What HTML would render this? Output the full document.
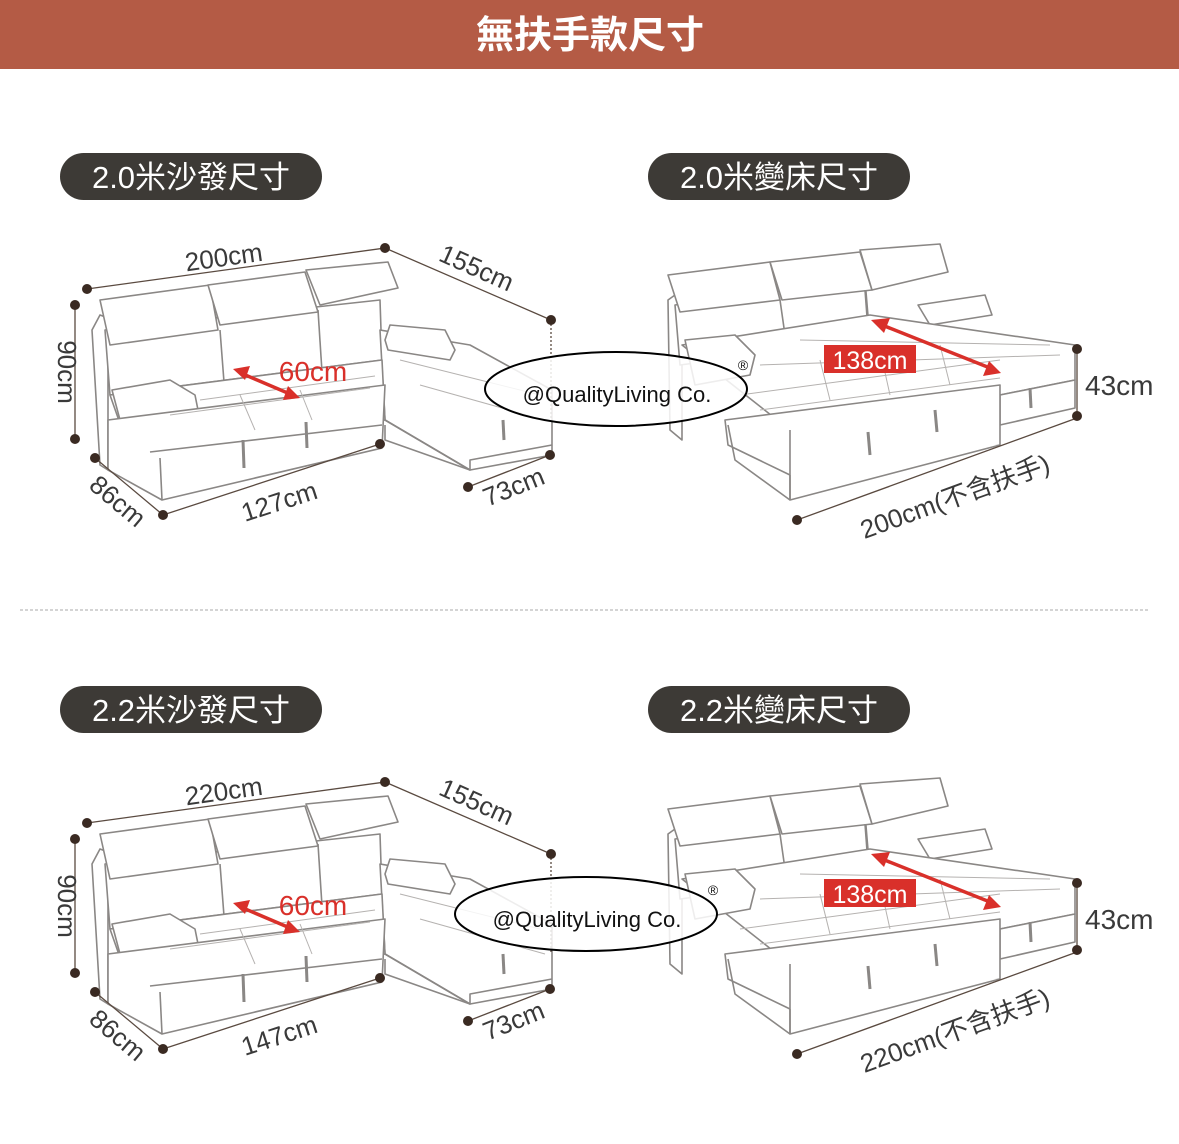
<!DOCTYPE html>
<html><head><meta charset="utf-8"><style>
html,body{margin:0;padding:0;background:#fff;}
svg{display:block}
text{font-family:"Liberation Sans","Noto Sans CJK TC",sans-serif;}
</style></head><body>
<svg width="1179" height="1144" viewBox="0 0 1179 1144" xmlns="http://www.w3.org/2000/svg">
<defs>
<g id="sofa" fill="#fff" stroke="#8a8785" stroke-width="1.6" stroke-linejoin="round">
  <!-- back frame -->
  <path d="M92,330 L100,315 L108,318 L108,470 L100,465 Z"/>
  <!-- backrest -->
  <path d="M105,330 L380,300 L382,360 L110,395 Z"/>
  <!-- headrests -->
  <path d="M100,300 L210,285 L218,330 L110,345 Z"/>
  <path d="M208,285 L305,272 L318,312 L220,325 Z"/>
  <path d="M306,270 L388,262 L398,288 L320,305 Z"/>
  <line x1="220" y1="330" x2="225" y2="395" />
  <line x1="318" y1="310" x2="322" y2="372" />
  <!-- chaise -->
  <path d="M380,330 L470,345 L552,390 L552,455 L470,470 L385,420 Z"/>
  <path d="M385,420 L470,470 L470,460 L552,445" fill="none"/>
  <path d="M385,425 L385,440 L470,470" fill="none"/>
  <path d="M385,340 L390,325 L445,330 L455,350 L450,360 L388,350 Z"/>
  <!-- main seat -->
  <path d="M110,395 L382,360 L385,420 L130,452 Z"/>
  <!-- arm -->
  <path d="M112,390 L170,380 L195,395 L200,420 L188,430 L120,420 Z"/>
  <!-- base -->
  <path d="M108,420 L385,385 L382,448 L162,500 L108,470 Z"/>
  <line x1="150" y1="452" x2="382" y2="425"/>
  <line x1="160" y1="458" x2="162" y2="500"/>
  <line x1="243" y1="440" x2="244" y2="468" stroke-width="3"/>
  <line x1="306" y1="422" x2="307" y2="448" stroke-width="3"/>
  <line x1="503" y1="420" x2="504" y2="440" stroke-width="3"/>
  <!-- tufts -->
  <g stroke="#b5b2b0" stroke-width="1" fill="none">
    <path d="M170,415 L370,388"/><path d="M200,400 L375,376"/>
    <path d="M400,360 L540,395"/><path d="M420,385 L545,420"/>
    <path d="M240,395 L255,430"/><path d="M300,390 L312,420"/>
  </g>
</g>
<g id="bed" fill="#fff" stroke="#8a8785" stroke-width="1.6" stroke-linejoin="round">
  <path d="M668,300 L675,295 L682,300 L682,440 L670,430 Z"/>
  <path d="M675,305 L865,280 L870,340 L680,365 Z"/>
  <path d="M668,275 L770,262 L780,300 L680,312 Z"/>
  <path d="M770,262 L860,252 L872,290 L782,300 Z"/>
  <path d="M860,250 L940,244 L948,272 L872,290 Z"/>
  <line x1="780" y1="300" x2="785" y2="335"/>
  <line x1="865" y1="290" x2="868" y2="330"/>
  <path d="M918,305 L985,295 L992,315 L930,325 Z"/>
  <!-- mattress -->
  <path d="M682,345 L870,315 L1075,345 L1075,380 L1000,395 L790,430 Z"/>
  <path d="M1000,395 L1000,425 L1075,408 L1075,380 Z"/>
  <path d="M725,420 L1000,385 L1000,445 L790,475 L728,445 Z"/>
  <path d="M790,430 L790,500 L1000,445"/>
  <path d="M790,475 L790,500"/>
  <path d="M728,425 L735,460 L790,500" fill="none"/>
  <path d="M685,340 L735,335 L755,355 L750,375 L695,385 Z"/>
  <line x1="868" y1="432" x2="870" y2="455" stroke-width="3"/>
  <line x1="935" y1="410" x2="937" y2="432" stroke-width="3"/>
  <line x1="1030" y1="388" x2="1031" y2="408" stroke-width="3"/>
  <g stroke="#b5b2b0" stroke-width="1" fill="none">
    <path d="M740,395 L1000,360"/><path d="M760,410 L1000,378"/>
    <path d="M760,365 L1060,355"/><path d="M800,340 L1050,345"/>
    <path d="M820,360 L830,400"/><path d="M880,350 L890,395"/><path d="M940,345 L950,385"/>
  </g>
</g>
<g id="dims" stroke="#5a4a40" stroke-width="1.3" fill="#3a2a22">
  <line x1="87" y1="289" x2="385" y2="248"/>
  <line x1="385" y1="248" x2="551" y2="320"/>
  <line x1="551" y1="320" x2="551" y2="420" stroke-dasharray="2,2"/>
  <line x1="75" y1="305" x2="75" y2="439"/>
  <line x1="95" y1="458" x2="163" y2="515"/>
  <line x1="163" y1="515" x2="380" y2="444"/>
  <line x1="468" y1="487" x2="550" y2="455"/>
  <line x1="1077" y1="349" x2="1077" y2="416"/>
  <line x1="797" y1="520" x2="1077" y2="418"/>
  <g stroke="none">
    <circle cx="87" cy="289" r="5"/><circle cx="385" cy="248" r="5"/><circle cx="551" cy="320" r="5"/>
    <circle cx="75" cy="305" r="5"/><circle cx="75" cy="439" r="5"/>
    <circle cx="95" cy="458" r="5"/><circle cx="163" cy="515" r="5"/><circle cx="380" cy="444" r="5"/>
    <circle cx="468" cy="487" r="5"/><circle cx="550" cy="455" r="5"/>
    <circle cx="1077" cy="349" r="5"/><circle cx="1077" cy="416" r="5"/><circle cx="797" cy="520" r="5"/>
  </g>
  <!-- red arrows -->
  <g stroke="#d9302a" stroke-width="3.5" fill="#d9302a">
    <line x1="243" y1="374" x2="290" y2="394"/>
    <polygon points="233,369 250,366 245,380" stroke="none"/>
    <polygon points="300,398 283,400 288,386" stroke="none"/>
    <line x1="882" y1="325" x2="990" y2="368"/>
    <polygon points="871,320 890,318 884,333" stroke="none"/>
    <polygon points="1001,373 983,376 989,361" stroke="none"/>
  </g>
  <rect x="824" y="345" width="92" height="28" fill="#d9302a" stroke="none"/>
</g>
</defs>

<rect x="0" y="0" width="1179" height="69" fill="#b45b45"/>
<text x="590" y="48" font-size="38" fill="#fff" text-anchor="middle" font-weight="bold">無扶手款尺寸</text>

<line x1="20" y1="610" x2="1150" y2="610" stroke="#aaa" stroke-width="1" stroke-dasharray="3,2"/>

<!-- TOP -->
<rect x="60" y="153" width="262" height="47" rx="23.5" fill="#3d3a36"/>
<text x="191" y="188" font-size="31" fill="#fff" text-anchor="middle">2.0米沙發尺寸</text>
<rect x="648" y="153" width="262" height="47" rx="23.5" fill="#3d3a36"/>
<text x="779" y="188" font-size="31" fill="#fff" text-anchor="middle">2.0米變床尺寸</text>
<use href="#sofa"/><use href="#bed"/><use href="#dims"/>
<g fill="#3a3a3a" font-size="26">
<text x="225" y="266" text-anchor="middle" transform="rotate(-8 225 266)">200cm</text>
<text x="473" y="276" text-anchor="middle" transform="rotate(24 473 276)">155cm</text>
<text x="58" y="372" text-anchor="middle" transform="rotate(90 58 372)">90cm</text>
<text x="112" y="508" text-anchor="middle" transform="rotate(40 112 508)">86cm</text>
<text x="282" y="510" text-anchor="middle" transform="rotate(-18 282 510)">127cm</text>
<text x="517" y="495" text-anchor="middle" transform="rotate(-22 517 495)">73cm</text>
<text x="1085" y="395" font-size="28">43cm</text>
<text x="958" y="505" text-anchor="middle" transform="rotate(-20 958 505)">200cm(不含扶手)</text>
</g>
<text x="313" y="381" font-size="28" fill="#d9302a" text-anchor="middle">60cm</text>
<text x="870" y="369" font-size="25" fill="#fff" text-anchor="middle">138cm</text>
<ellipse cx="616" cy="389" rx="131" ry="37" fill="#fff" fill-opacity="0.85" stroke="#000" stroke-width="2"/>
<text x="617" y="402" font-size="22" fill="#111" text-anchor="middle">@QualityLiving Co.</text>
<text x="743" y="370" font-size="14" fill="#111" text-anchor="middle">®</text>

<!-- BOTTOM -->
<rect x="60" y="686" width="262" height="47" rx="23.5" fill="#3d3a36"/>
<text x="191" y="721" font-size="31" fill="#fff" text-anchor="middle">2.2米沙發尺寸</text>
<rect x="648" y="686" width="262" height="47" rx="23.5" fill="#3d3a36"/>
<text x="779" y="721" font-size="31" fill="#fff" text-anchor="middle">2.2米變床尺寸</text>
<g transform="translate(0,534)"><use href="#sofa"/><use href="#bed"/><use href="#dims"/></g>
<g fill="#3a3a3a" font-size="26">
<text x="225" y="800" text-anchor="middle" transform="rotate(-8 225 800)">220cm</text>
<text x="473" y="810" text-anchor="middle" transform="rotate(24 473 810)">155cm</text>
<text x="58" y="906" text-anchor="middle" transform="rotate(90 58 906)">90cm</text>
<text x="112" y="1042" text-anchor="middle" transform="rotate(40 112 1042)">86cm</text>
<text x="282" y="1044" text-anchor="middle" transform="rotate(-18 282 1044)">147cm</text>
<text x="517" y="1029" text-anchor="middle" transform="rotate(-22 517 1029)">73cm</text>
<text x="1085" y="929" font-size="28">43cm</text>
<text x="958" y="1039" text-anchor="middle" transform="rotate(-20 958 1039)">220cm(不含扶手)</text>
</g>
<text x="313" y="915" font-size="28" fill="#d9302a" text-anchor="middle">60cm</text>
<text x="870" y="903" font-size="25" fill="#fff" text-anchor="middle">138cm</text>
<ellipse cx="586" cy="914" rx="131" ry="37" fill="#fff" fill-opacity="0.85" stroke="#000" stroke-width="2"/>
<text x="587" y="927" font-size="22" fill="#111" text-anchor="middle">@QualityLiving Co.</text>
<text x="713" y="895" font-size="14" fill="#111" text-anchor="middle">®</text>
</svg>
</body></html>
